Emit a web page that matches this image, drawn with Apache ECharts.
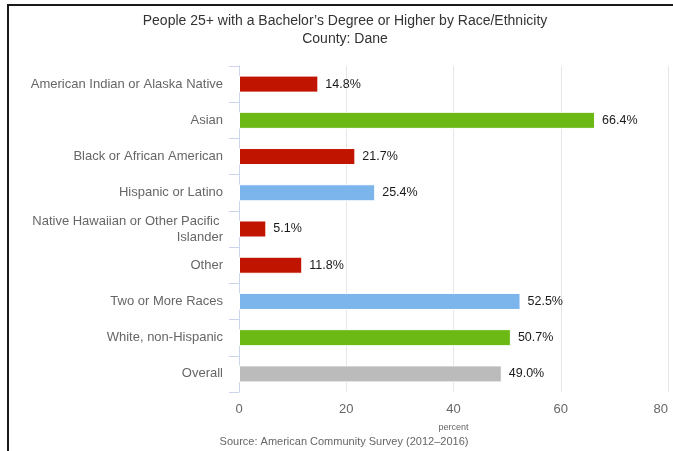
<!DOCTYPE html>
<html>
<head>
<meta charset="utf-8">
<script src="https://cdn.jsdelivr.net/npm/echarts@6/dist/echarts.min.js"></script>
<style>
html,body{margin:0;padding:0;background:#fff;}
#frame{position:absolute;left:7px;top:4px;width:700px;height:460px;border-top:2px solid #1a1a1a;border-left:2px solid #1a1a1a;box-sizing:border-box;}
#chart{position:absolute;left:0;top:0;width:673px;height:451px;}
</style>
</head>
<body>
<div id="chart"></div>
<div id="frame"></div>
<script>
const categories = [
  "American Indian or Alaska Native",
  "Asian",
  "Black or African American",
  "Hispanic or Latino",
  "Native Hawaiian or Other Pacific Islander",
  "Other",
  "Two or More Races",
  "White, non-Hispanic",
  "Overall"
];
const values = [14.8, 66.4, 21.7, 25.4, 5.1, 11.8, 52.5, 50.7, 49.0];
const barColors = ["#c11400", "#6cb815", "#c11400", "#7cb5ec", "#c11400", "#c11400", "#7cb5ec", "#6cb815", "#bbbbbb"];
const xTicks = { min: 0, max: 80, interval: 20 };
const titleLines = ["People 25+ with a Bachelor\u2019s Degree or Higher by Race/Ethnicity", "County: Dane"];
const sourceText = "Source: American Community Survey (2012\u20132016)";
const axisName = "percent";

const FONT = "'Liberation Sans', Arial, sans-serif";
const chart = echarts.init(document.getElementById('chart'), null, {renderer: 'canvas'});
chart.setOption({
  animation: false,
  backgroundColor: '#ffffff',
  graphic: [
    {type: 'text', x: 345, y: 21, style: {text: titleLines[0], font: '14px ' + FONT, fill: '#333333', textAlign: 'center', textVerticalAlign: 'middle'}},
    {type: 'text', x: 345, y: 39, style: {text: titleLines[1], font: '14px ' + FONT, fill: '#333333', textAlign: 'center', textVerticalAlign: 'middle'}},
    {type: 'text', x: 344, y: 442, style: {text: sourceText, font: '11px ' + FONT, fill: '#666666', textAlign: 'center', textVerticalAlign: 'middle'}}
  ],
  grid: {left: 239, right: 5, top: 66, bottom: 59, containLabel: false},
  xAxis: {
    type: 'value', min: xTicks.min, max: xTicks.max, interval: xTicks.interval,
    name: axisName, nameLocation: 'middle', nameGap: 31,
    nameTextStyle: {fontSize: 9, color: '#666666', fontFamily: FONT},
    axisLine: {show: false}, axisTick: {show: false},
    axisLabel: {fontSize: 13, color: '#666666', fontFamily: FONT, margin: 11, alignMaxLabel: 'right'},
    splitLine: {show: true, lineStyle: {color: '#e6e6e6', width: 1}}
  },
  yAxis: {
    type: 'category', data: categories, inverse: true,
    axisLine: {show: true, lineStyle: {color: '#ccd6eb', width: 1}},
    axisTick: {show: true, length: 10, lineStyle: {color: '#ccd6eb'}},
    axisLabel: {fontSize: 13, color: '#666666', fontFamily: FONT, margin: 16, width: 195, overflow: 'break', lineHeight: 16},
    splitLine: {show: false}
  },
  series: [{
    type: 'bar',
    data: values.map((v, i) => ({value: v, itemStyle: {color: barColors[i]}})),
    barWidth: '47%',
    itemStyle: {borderColor: '#ffffff', borderWidth: 1},
    label: {show: true, position: 'right', distance: 7, formatter: p => p.value.toFixed(1) + '%', fontSize: 12.5, color: '#1a1a1a', fontFamily: FONT}
  }]
});
</script>
</body>
</html>
